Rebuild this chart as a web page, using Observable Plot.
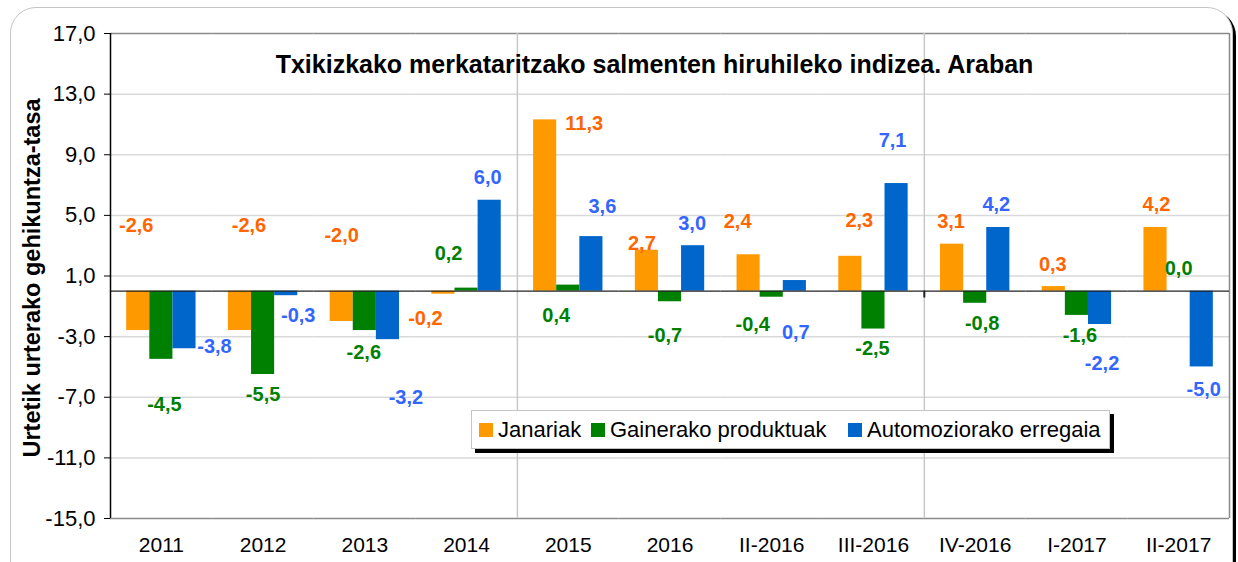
<!DOCTYPE html>
<html>
<head>
<meta charset="utf-8">
<script src="https://cdn.jsdelivr.net/npm/d3@7"></script>
<script src="https://cdn.jsdelivr.net/npm/@observablehq/plot@0.6"></script>
<style>
  html, body { margin: 0; padding: 0; background: #fff; }
  #wrap { position: relative; width: 1238px; height: 562px; overflow: hidden; font-family: "Liberation Sans", Arial, sans-serif; }
  #box { position: absolute; left: 10px; top: 7px; width: 1221px; height: 600px; border: 1px solid #c4c4c4; border-radius: 26px; box-shadow: 3px 3px 0 0 #000; background: #fff; }
  #chart { position: absolute; left: 0; top: 0; }
  #title { position: absolute; top: 50px; left: 0; width: 1309px; text-align: center; font-weight: bold; font-size: 25px; white-space: nowrap; color: #000; }
  #ylab { position: absolute; left: 32px; top: 278px; transform: translate(-50%, -50%) rotate(-90deg); font-weight: bold; font-size: 23.5px; white-space: nowrap; color: #000; }
  #legend { position: absolute; left: 471px; top: 410px; width: 639px; height: 39px; border: 1px solid #c4c4c4; background: #fff; box-shadow: 4px 4px 0 0 #000; box-sizing: border-box; font-size: 22px; white-space: nowrap; }
  .item { position: absolute; top: 0; height: 37px; display: flex; align-items: center; }
  .sw { width: 14px; height: 14px; margin-right: 5px; }
</style>
</head>
<body>
<div id="wrap">
  <div id="box"></div>
  <div id="chart"></div>
  <div id="title"></div>
  <div id="ylab"></div>
  <div id="legend"></div>
</div>
<script>
const categories = ["2011", "2012", "2013", "2014", "2015", "2016", "II-2016", "III-2016", "IV-2016", "I-2017", "II-2017"];
const series = ["Janariak", "Gainerako produktuak", "Automoziorako erregaia"];
const janariak  = [-2.6, -2.6, -2.0, -0.2, 11.3, 2.7, 2.4, 2.3, 3.1, 0.3, 4.2];
const gainerako = [-4.5, -5.5, -2.6, 0.2, 0.4, -0.7, -0.4, -2.5, -0.8, -1.6, 0.0];
const automoz   = [-3.8, -0.3, -3.2, 6.0, 3.6, 3.0, 0.7, 7.1, 4.2, -2.2, -5.0];
const yTicks = [17, 13, 9, 5, 1, -3, -7, -11, -15];
const titleText = "Txikizkako merkataritzako salmenten hiruhileko indizea. Araban";
const yTitle = "Urtetik urterako gehikuntza-tasa";

// label anchor positions (in y units) and horizontal nudges (px), per series
const labelY = [
  [4.33, 4.33, 3.68, -1.8, 11.07, 3.15, 4.6, 4.66, 4.6, 1.76, 5.72],
  [-7.5, -6.8, -4.05, 2.49, -1.6, -2.92, -2.2, -3.78, -2.13, -2.92, 1.5],
  [-3.65, -1.6, -7.0, 7.5, 5.59, 4.47, -2.72, 9.94, 5.72, -4.77, -6.49]
];
const labelDx = [
  [-2, 9, 0, -18, 39, -5, -11, 9, -1, -1, 1],
  [3, 0, -1, -18, -12, -5, -19, -1, 7, 3, 0],
  [30, 12, 18, -2, 11, -1, 1, -4, -2, 2, 2]
];
// legend item offsets inside the legend box (px)
const legendLeft = [7, 119, 376];

const barColors = ["#FF9900", "#008000", "#0066CC"];
const labelColors = ["#FF6600", "#008000", "#3366FF"];

const values = [janariak, gainerako, automoz];
const rows = categories.flatMap((c, i) => series.map((s, j) => ({
  cat: c, s, j, v: values[j][i], ly: labelY[j][i], dx: labelDx[j][i]
})));
const fmt = v => v.toFixed(1).replace(".", ",");

const W = 1238, H = 562, mL = 110, mR = 9, mT = 33, mB = 44;
const padOuter = 0.7;
const facetW = (W - mL - mR) / categories.length;
const step = facetW / (series.length + 2 * padOuter);
const edge = (0.5 + padOuter) * step; // distance from outer band center to facet edge

const labelMarks = rows.map(r => Plot.text([r], {
  fx: "cat", x: "s", y: "ly", text: d => fmt(d.v),
  fill: labelColors[r.j], dx: r.dx, fontWeight: "bold", fontSize: 20
}));

const chart = Plot.plot({
  width: W, height: H,
  marginLeft: mL, marginRight: mR, marginTop: mT, marginBottom: mB,
  style: { fontFamily: "'Liberation Sans', Arial, sans-serif", fontSize: "21px", color: "#000", background: "transparent" },
  fx: { domain: categories, padding: 0, round: false, label: null },
  x: { domain: series, paddingInner: 0, paddingOuter: padOuter, round: false, axis: null },
  y: { domain: [-15, 17], label: null },
  color: { domain: series, range: barColors },
  marks: [
    Plot.ruleY(yTicks.filter(t => t !== 17 && t !== -15), { stroke: "#d9d9d9", strokeWidth: 1.5 }),
    Plot.ruleY([17, -15], { stroke: "#8a8a8a", strokeWidth: 1.5 }),
    Plot.ruleX(["2015", "IV-2016"], { fx: d => d, x: () => series[0], dx: -edge, y1: -15, y2: 17, stroke: "#c8c8c8", strokeWidth: 1.5 }),
    Plot.ruleX(["II-2017"], { fx: d => d, x: () => series[2], dx: edge, y1: -15, y2: 17, stroke: "#8a8a8a", strokeWidth: 1.5 }),
    Plot.barY(rows, { fx: "cat", x: "s", y: "v", fill: "s" }),
    Plot.ruleY([0], { stroke: "#222", strokeWidth: 1.3 }),
    Plot.ruleX(["IV-2016"], { fx: d => d, x: () => series[0], dx: -edge, y1: 0, y2: -0.45, stroke: "#222", strokeWidth: 2 }),
    Plot.ruleX(["2011"], { fx: d => d, x: () => series[0], dx: -edge, y1: -15, y2: 17, stroke: "#000", strokeWidth: 1.5 }),
    Plot.axisY({ ticks: yTicks, tickFormat: fmt, tickSize: 6, tickPadding: 9, fontSize: 22, label: null }),
    Plot.axisFx({ anchor: "bottom", tickSize: 0, tickPadding: 19, fontSize: 21, label: null }),
    ...labelMarks
  ]
});
document.getElementById("chart").appendChild(chart);
document.getElementById("title").textContent = titleText;
document.getElementById("ylab").textContent = yTitle;

const legend = document.getElementById("legend");
series.forEach((s, j) => {
  const item = document.createElement("div");
  item.className = "item";
  item.style.left = legendLeft[j] + "px";
  const sw = document.createElement("div");
  sw.className = "sw";
  sw.style.background = barColors[j];
  const t = document.createElement("span");
  t.textContent = s;
  item.appendChild(sw); item.appendChild(t);
  legend.appendChild(item);
});
</script>
</body>
</html>
